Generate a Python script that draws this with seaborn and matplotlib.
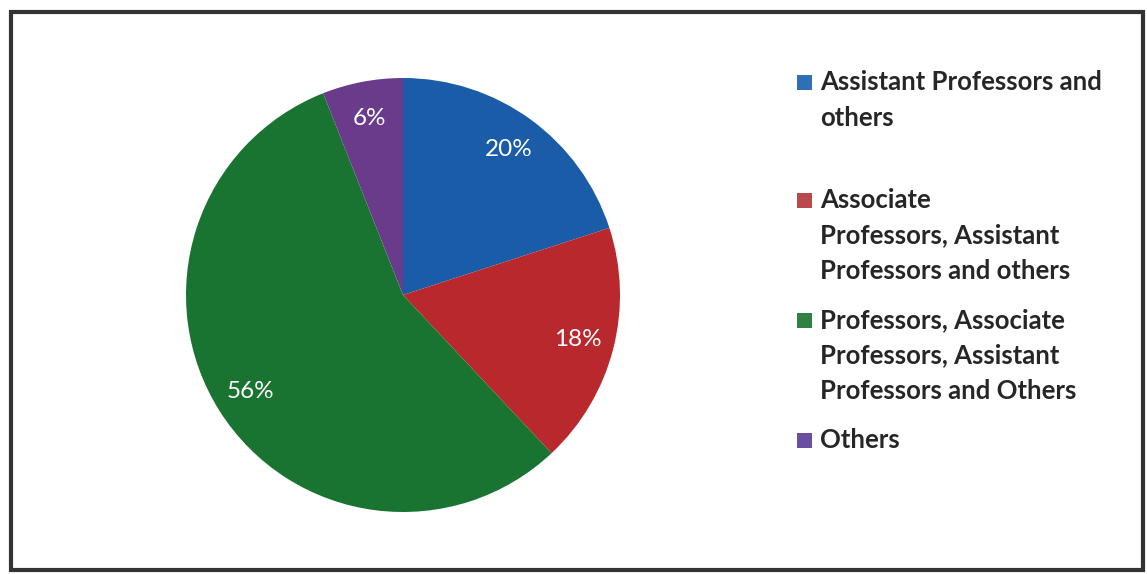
import numpy as np
import pandas as pd
import matplotlib
matplotlib.use("Agg")
import matplotlib.pyplot as plt
import matplotlib.patches as patches
import seaborn as sns

# data
groups = ["Assistant Professors and others",
          "Associate Professors, Assistant Professors and others",
          "Professors, Associate Professors, Assistant Professors and Others",
          "Others"]
shares = [20, 18, 56, 6]
slice_colors = ["#1b5ca8", "#b8282c", "#1a7431", "#6a3b8b"]
swatch_colors = ["#2e6fb5", "#b84a4d", "#2e8043", "#6a4fa0"]
# legend text, wrapped like the original
legend_lines = [["Assistant Professors and", "others"],
                ["Associate", "Professors, Assistant", "Professors and others"],
                ["Professors, Associate", "Professors, Assistant", "Professors and Others"],
                ["Others"]]

sns.set_theme(style="white")
plt.rcParams["font.family"] = ["Lato", "DejaVu Sans"]

W, H = 1147, 574
fig = plt.figure(figsize=(W / 100, H / 100), dpi=100)
fig.patch.set_facecolor("white")

# pie axes: centre (403, 295), radius ~217 px
cx, cy, r = 403, 295, 217
ax = fig.add_axes([(cx - r) / W, (H - cy - r) / H, 2 * r / W, 2 * r / H])
wedges, texts, autotexts = ax.pie(
    shares, colors=slice_colors, startangle=90, counterclock=False,
    autopct="%1.0f%%", pctdistance=0.83, radius=1,
    wedgeprops=dict(linewidth=0),
    textprops=dict(color="white", fontsize=17.5))
ax.set_xlim(-1, 1)
ax.set_ylim(-1, 1)
ax.set_aspect("equal")
ax.axis("off")

# legend drawn by hand so the swatch sits on the first line
first_baselines = [90, 208, 328, 448]
line_gap = 35.5
for lines, base, col in zip(legend_lines, first_baselines, swatch_colors):
    fig.patches.append(patches.Rectangle(
        ((797) / W, (H - base) / H), 15 / W, 15 / H,
        transform=fig.transFigure, facecolor=col, edgecolor="none"))
    for i, txt in enumerate(lines):
        fig.text(820 / W, (H - base - i * line_gap) / H, txt,
                 fontsize=18.5, fontweight="bold", color="#262626",
                 va="baseline", ha="left")

# dark chart frame
fig.patches.append(patches.Rectangle(
    (11 / W, 4 / H), (1143 - 11) / W, (562 - 4) / H,
    transform=fig.transFigure, fill=False, edgecolor="#333333", linewidth=3))

fig.savefig("out.png", dpi=100)
